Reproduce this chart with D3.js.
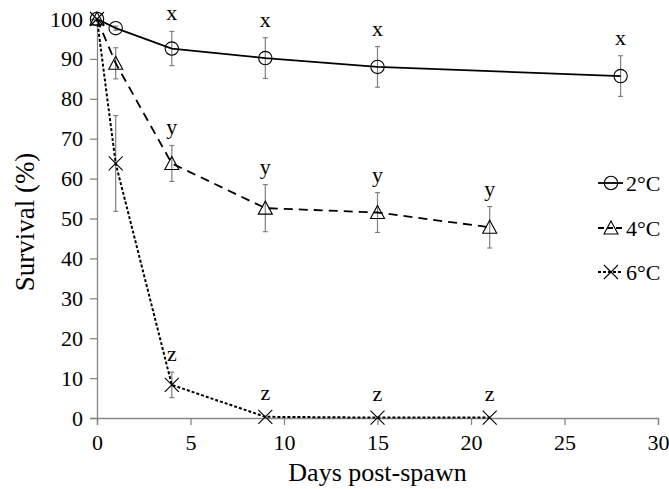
<!DOCTYPE html>
<html>
<head>
<meta charset="utf-8">
<script src="https://cdn.jsdelivr.net/npm/d3@7"></script>
<style>
  body { margin: 0; background: #fff; }
  text { font-family: "Liberation Serif", "Times New Roman", serif; fill: #000; }
</style>
</head>
<body>
<script>
// survival data
const days2 = [0, 1, 4, 9, 15, 28]
const surv2 = [100, 97.7, 92.6, 90.2, 88.0, 85.7]
const err2 = [0, 0.5, 4.3, 5.1, 5.1, 5.1]
const sig2 = ['', '', 'x', 'x', 'x', 'x']

const days4 = [0, 1, 4, 9, 15, 21]
const surv4 = [100, 88.9, 63.8, 52.6, 51.5, 47.8]
const err4 = [0, 3.9, 4.5, 5.9, 5.0, 5.2]
const sig4 = ['', '', 'y', 'y', 'y', 'y']

const days6 = [0, 1, 4, 9, 15, 21]
const surv6 = [100, 63.8, 8.3, 0.3, 0.1, 0.1]
const err6 = [0, 12, 3.2, 0, 0, 0]
const sig6 = ['', '', 'z', 'z', 'z', 'z']

const seriesNames = ['2°C', '4°C', '6°C']
const xTicks = [0, 5, 10, 15, 20, 25, 30]
const yTicks = [0, 10, 20, 30, 40, 50, 60, 70, 80, 90, 100]

const width = 669, height = 489
const margin = {top: 19, right: 11, bottom: 71, left: 97}

const svg = d3.select('body').append('svg')
    .attr('width', width)
    .attr('height', height)

const xScale = d3.scaleLinear()
    .domain([0, 30])
    .range([margin.left, width - margin.right])
const yScale = d3.scaleLinear()
    .domain([0, 100])
    .range([height - margin.bottom, margin.top])

const axisColor = '#868686'
const serif = '"Liberation Serif", "Times New Roman", serif'

// x axis
const xAxis = svg.append('g')
    .attr('transform', 'translate(0,' + yScale(0) + ')')
    .call(d3.axisBottom(xScale).tickValues(xTicks).tickSize(7).tickPadding(9))
    .attr('font-family', serif)
    .attr('font-size', 22)
xAxis.select('.domain').attr('stroke', axisColor).attr('stroke-width', 1.3)
xAxis.selectAll('.tick line').attr('stroke', axisColor).attr('stroke-width', 1.3)

// y axis
const yAxis = svg.append('g')
    .attr('transform', 'translate(' + xScale(0) + ',0)')
    .call(d3.axisLeft(yScale).tickValues(yTicks).tickSize(7).tickPadding(7))
    .attr('font-family', serif)
    .attr('font-size', 22)
yAxis.select('.domain').attr('stroke', axisColor).attr('stroke-width', 1.3)
yAxis.selectAll('.tick line').attr('stroke', axisColor).attr('stroke-width', 1.3)

// axis titles
svg.append('text')
    .attr('x', (xScale(0) + xScale(30)) / 2)
    .attr('y', 481)
    .attr('text-anchor', 'middle')
    .style('font-size', '26px')
    .text('Days post-spawn')

svg.append('text')
    .attr('transform', 'translate(34,222)rotate(-90)')
    .attr('text-anchor', 'middle')
    .style('font-size', '27px')
    .text('Survival (%)')

// marker drawing
function drawMarker(g, type, x, y) {
    if (type === 0) {
        g.append('circle').attr('cx', x).attr('cy', y).attr('r', 6.7)
            .attr('fill', 'none').attr('stroke', '#000').attr('stroke-width', 1.1)
    } else if (type === 1) {
        g.append('path')
            .attr('d', 'M' + x + ',' + (y - 7) + 'L' + (x + 7) + ',' + (y + 6) + 'L' + (x - 7) + ',' + (y + 6) + 'Z')
            .attr('fill', 'none').attr('stroke', '#000').attr('stroke-width', 1.1)
    } else {
        g.append('path')
            .attr('d', 'M' + (x - 7) + ',' + (y - 7) + 'L' + (x + 7) + ',' + (y + 7) + 'M' + (x + 7) + ',' + (y - 7) + 'L' + (x - 7) + ',' + (y + 7))
            .attr('fill', 'none').attr('stroke', '#000').attr('stroke-width', 1.1)
    }
}

const series = [
    {days: days2, surv: surv2, err: err2, sig: sig2, dash: null, sw: 1.8},
    {days: days4, surv: surv4, err: err4, sig: sig4, dash: '9,6', sw: 1.8},
    {days: days6, surv: surv6, err: err6, sig: sig6, dash: '3,2', sw: 2}
]

const line = d3.line()
    .x(d => xScale(d[0]))
    .y(d => yScale(d[1]))

series.forEach((s, i) => {
    const pts = s.days.map((d, j) => [d, s.surv[j]])
    const g = svg.append('g')

    // error bars
    pts.forEach((p, j) => {
        if (s.err[j] <= 0) return
        const x = xScale(p[0])
        const y1 = yScale(p[1] + s.err[j]), y2 = yScale(p[1] - s.err[j])
        g.append('line').attr('x1', x).attr('x2', x).attr('y1', y1).attr('y2', y2)
            .attr('stroke', '#808080').attr('stroke-width', 1.2)
        ;[y1, y2].forEach(yy => {
            g.append('line').attr('x1', x - 2.5).attr('x2', x + 2.5).attr('y1', yy).attr('y2', yy)
                .attr('stroke', '#808080').attr('stroke-width', 1.2)
        })
    })

    g.append('path')
        .datum(pts)
        .attr('fill', 'none')
        .attr('stroke', '#000')
        .attr('stroke-width', s.sw)
        .attr('stroke-dasharray', s.dash)
        .attr('d', line)

    pts.forEach(p => drawMarker(g, i, xScale(p[0]), yScale(p[1])))

    // significance letters
    pts.forEach((p, j) => {
        if (!s.sig[j]) return
        const yb = Math.min(yScale(p[1] + s.err[j]) - 11, yScale(p[1]) - 17)
        g.append('text')
            .attr('x', xScale(p[0]))
            .attr('y', yb)
            .attr('text-anchor', 'middle')
            .style('font-size', '22px')
            .text(s.sig[j])
    })
})

// legend
const legendY = [183, 228, 272]
const dashes = [null, '6,3', '3,2']
seriesNames.forEach((name, i) => {
    const g = svg.append('g')
    g.append('line')
        .attr('x1', 598).attr('x2', 623)
        .attr('y1', legendY[i]).attr('y2', legendY[i])
        .attr('stroke', '#000').attr('stroke-width', 1.8)
        .attr('stroke-dasharray', dashes[i])
    drawMarker(g, i, 611, legendY[i])
    g.append('text')
        .attr('x', 626)
        .attr('y', legendY[i] + 8)
        .style('font-size', '22px')
        .text(name)
})
</script>
</body>
</html>
